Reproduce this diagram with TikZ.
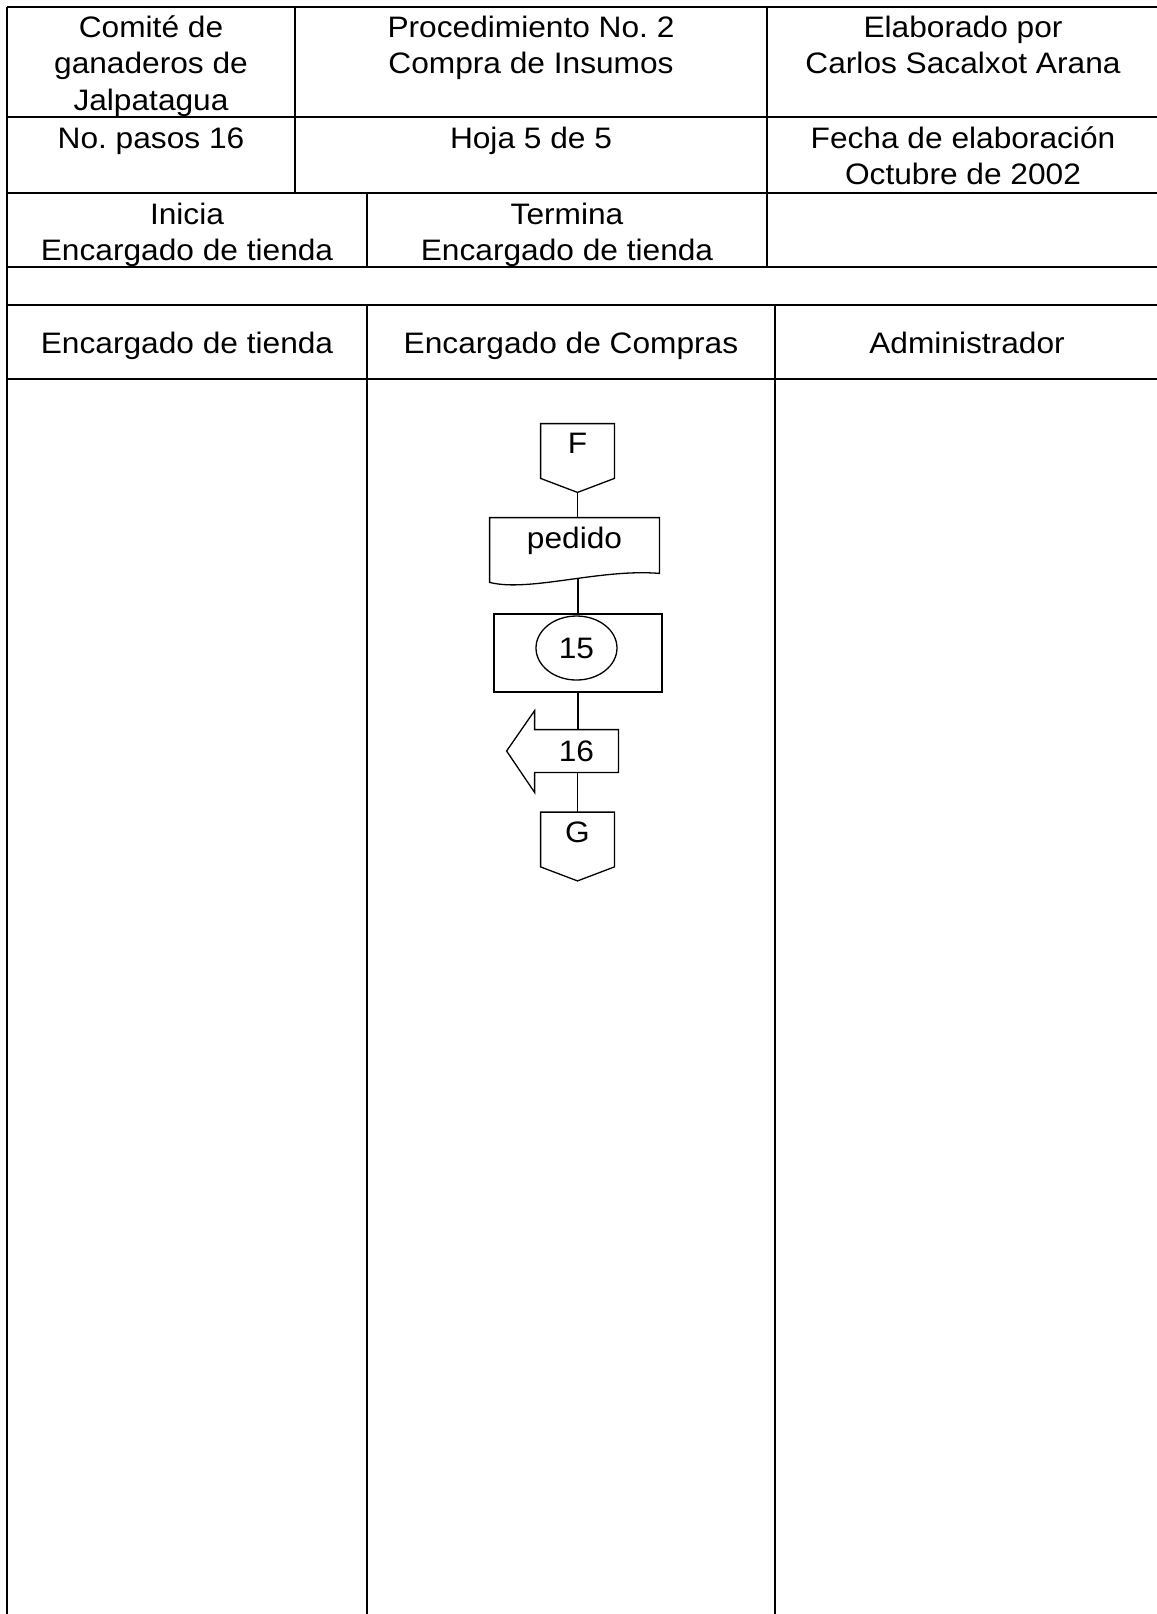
\documentclass[tikz,border=0pt]{standalone}
\usepackage{fontspec}
\setmainfont{Liberation Sans}[FakeStretch=1.07]
\usetikzlibrary{shapes.geometric}

\begin{document}
\begin{tikzpicture}[
    x=0.5pt, y=-0.5pt,
    font=\fontsize{14.8pt}{18.25pt}\selectfont,
    cell/.style={anchor=base, align=center, inner sep=0pt},
    grid/.style={line width=0.85pt},
    shapeline/.style={line width=0.65pt},
    offpage/.style={rectangle, minimum width=36.5pt, minimum height=27pt, inner sep=0pt, text height=10pt, text depth=7.5pt},
    docbox/.style={rectangle, minimum width=84.5pt, minimum height=30.5pt, inner sep=0pt, text height=10pt, text depth=10.5pt},
    procbox/.style={rectangle, draw, shapeline, minimum width=84pt, minimum height=39pt},
    stepcirc/.style={ellipse, draw, shapeline, minimum width=40.5pt, minimum height=32pt, inner sep=0pt},
    arrowbox/.style={rectangle, minimum width=41.5pt, minimum height=21pt, inner sep=0pt}
]
\useasboundingbox (0,0) rectangle (1157,1614);

% Header table (multi-line cells sit on the baseline of their last line)
\foreach \y in {7,117,193,267,305,379}
    \draw[grid] (7,\y) -- (1159,\y);
\draw[grid] (7,7) -- (7,1620);
\draw[grid] (1159,7) -- (1159,1620);
\draw[grid] (295,7) -- (295,193);
\draw[grid] (767,7) -- (767,267);
\draw[grid] (367,193) -- (367,267);
\draw[grid] (367,305) -- (367,1620);
\draw[grid] (775,305) -- (775,1620);

\node[cell] (org) at (151,110) {Comité de\\ganaderos de\\Jalpatagua};
\node[cell] (title) at (531,73.5) {Procedimiento No.\ 2\\Compra de Insumos};
\node[cell] (author) at (963,73.5) {Elaborado por\\Carlos Sacalxot Arana};
\node[cell] (steps) at (151,148) {No.\ pasos 16};
\node[cell] (sheet) at (531,148) {Hoja 5 de 5};
\node[cell] (date) at (963,184.5) {Fecha de elaboración\\Octubre de 2002};
\node[cell] (starts) at (187,260.5) {Inicia\\Encargado de tienda};
\node[cell] (ends) at (567,260.5) {Termina\\Encargado de tienda};

% Lanes
\node[cell] (laneshop) at (187,353) {Encargado de tienda};
\node[cell] (lanebuy) at (571,353) {Encargado de Compras};
\node[cell] (laneadmin) at (967,353) {Administrador};

% Flow in Compras lane
\node[offpage] (fcon) at (577.5,451) {F};
\node[docbox] (ped) at (574.5,548.5) {pedido};
\node[procbox] (proc) at (578,653) {};
\node[stepcirc] (s15) at (576.5,648) {15};
\node[arrowbox] (a16) at (576.5,751) {16};
\node[offpage] (gcon) at (577.5,839.5) {G};

\foreach \n in {fcon,gcon}
    \draw[shapeline] (\n.north west) -- (\n.north east) -- (\n.south east) -- ([yshift=-7pt]\n.south) -- (\n.south west) -- cycle;
\draw[shapeline] (ped.north west) -- (ped.north east) -- ([yshift=3pt]ped.south east)
    .. controls ([xshift=-29.5pt,yshift=5.5pt]ped.south east) and ([xshift=20pt,yshift=-6.5pt]ped.south west) .. ([yshift=-1.5pt]ped.south west) -- cycle;
\draw[shapeline] (a16.north east) -- (a16.north west) -- ([yshift=9.5pt]a16.north west) -- ([xshift=-14pt]a16.west)
    -- ([yshift=-10pt]a16.south west) -- (a16.south west) -- (a16.south east) -- cycle;

\draw[shapeline] ([yshift=-7pt]fcon.south) -- (fcon.south |- ped.north);
\draw[shapeline] (proc.north) -- (proc.north |- ped.south);
\draw[shapeline] (proc.south) -- (proc.south |- a16.north);
\draw[shapeline] (gcon.north) -- (gcon.north |- a16.south);

\end{tikzpicture}
\end{document}
